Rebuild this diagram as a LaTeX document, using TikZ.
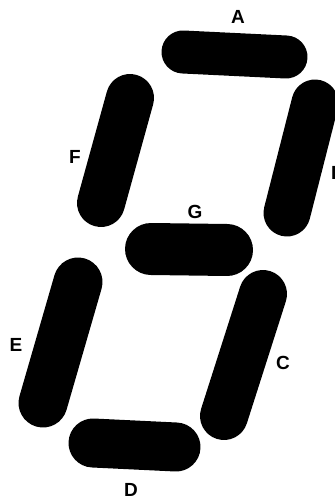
\documentclass[tikz,border=0pt]{standalone}
\usepackage{fontspec}
\setmainfont{Liberation Sans}
\usepackage{tikz}

\begin{document}
\begin{tikzpicture}[x=1pt,y=-1pt,line cap=round,line join=round,
    seg/.style={line width=46pt,line cap=round},
    lbl/.style={font=\fontsize{19}{20}\selectfont\bfseries,inner sep=0pt}]
    \useasboundingbox (0,0) rectangle (334,502);

    % Top and middle bars.
    \draw[seg,line width=43pt] (183,52) -- (286,57);
    \draw[seg,line width=52pt] (151,249) -- (227,250);
    \draw[seg,line width=49pt] (93,443) -- (176,447);

    % Left column.
    \draw[seg,line width=48pt] (130,98) -- (101,203);
    \draw[seg,line width=49pt] (78,282) -- (43,403);

    % Right column.
    \draw[seg,line width=47pt] (315,103) -- (287,213);
    \draw[seg,line width=48pt] (263,294) -- (224,416);

    % Segment letters.
    \node[lbl] (labA) at (238,17) {A};
    \node[lbl] (labB) at (338,173) {B};
    \node[lbl] (labC) at (283,363) {C};
    \node[lbl] (labD) at (131,490) {D};
    \node[lbl] (labE) at (16,345) {E};
    \node[lbl] (labF) at (75,157) {F};
    \node[lbl] (labG) at (195,212) {G};
\end{tikzpicture}
\end{document}
